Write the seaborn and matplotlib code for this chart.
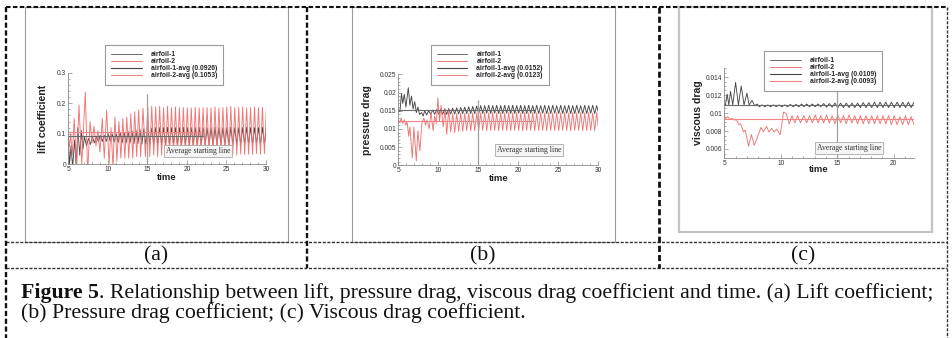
import numpy as np
import pandas as pd
import matplotlib
matplotlib.use("Agg")
import matplotlib.pyplot as plt
import seaborn as sns
from matplotlib.ticker import MultipleLocator, AutoMinorLocator, FuncFormatter
from matplotlib.lines import Line2D
from matplotlib.patches import Rectangle

sns.set_theme(style="ticks")
plt.rcParams['font.family'] = ['Liberation Sans', 'DejaVu Sans']

# ---------------- data ----------------
series_names = ["airfoil-1", "airfoil-2"]
avg_start = 15.0

# shared time stamps of the regular oscillation (panels a, b)
ab_steady_t = [15.30, 15.55, 15.80, 16.05, 16.30, 16.55, 16.80, 17.05, 17.30, 17.55,
               17.80, 18.05, 18.30, 18.55, 18.80, 19.05, 19.30, 19.55, 19.80, 20.05,
               20.30, 20.55, 20.80, 21.05, 21.30, 21.55, 21.80, 22.05, 22.30, 22.55,
               22.80, 23.05, 23.30, 23.55, 23.80, 24.05, 24.30, 24.55, 24.80, 25.05,
               25.30, 25.55, 25.80, 26.05, 26.30, 26.55, 26.80, 27.05, 27.30, 27.55,
               27.80, 28.05, 28.30, 28.55, 28.80, 29.05, 29.30, 29.55, 29.80, 30.05]
c_steady_t = [12.30, 12.55, 12.80, 13.05, 13.30, 13.55, 13.80, 14.05, 14.30, 14.55,
              14.80, 15.05, 15.30, 15.55, 15.80, 16.05, 16.30, 16.55, 16.80, 17.05,
              17.30, 17.55, 17.80, 18.05, 18.30, 18.55, 18.80, 19.05, 19.30, 19.55,
              19.80, 20.05, 20.30, 20.55, 20.80, 21.05, 21.30, 21.55, 21.80, 22.05]

# (a) lift coefficient
lift1_t = [5.00, 5.15, 5.35, 5.55, 5.80, 6.00, 6.20, 6.45, 6.65, 6.85, 7.05, 7.30, 7.55, 7.80,
           8.05, 8.30, 8.55, 8.80, 9.05, 9.30, 9.55, 9.80, 10.05, 10.30, 10.55, 10.80, 11.05,
           11.30, 11.55, 11.80, 12.05, 12.30, 12.55, 12.80, 13.05, 13.30, 13.55, 13.80, 14.05,
           14.30, 14.55, 14.80, 15.05]
lift1_v = [0.090, 0.000, 0.060, -0.010, 0.080, -0.010, 0.120, 0.030, 0.110, 0.050, 0.090, 0.060,
           0.085, 0.065, 0.090, 0.070, 0.090, 0.075, 0.095, 0.075, 0.095, 0.075, 0.100, 0.075,
           0.100, 0.073, 0.100, 0.072, 0.105, 0.070, 0.105, 0.070, 0.108, 0.070, 0.110, 0.068,
           0.112, 0.068, 0.115, 0.066, 0.116, 0.065, 0.118]
lift1_steady = [0.066, 0.119, 0.065, 0.120, 0.065, 0.120, 0.066, 0.120, 0.065, 0.121,
                0.065, 0.120, 0.066, 0.120, 0.065, 0.120, 0.065, 0.121, 0.066, 0.120,
                0.065, 0.120, 0.065, 0.120, 0.066, 0.121, 0.065, 0.120, 0.065, 0.120,
                0.066, 0.120, 0.065, 0.121, 0.065, 0.120, 0.066, 0.120, 0.065, 0.120,
                0.065, 0.121, 0.066, 0.120, 0.065, 0.120, 0.065, 0.120, 0.066, 0.121,
                0.065, 0.120, 0.065, 0.120, 0.066, 0.120, 0.065, 0.121, 0.065, 0.120]
lift2_t = [5.00, 5.15, 5.30, 5.50, 5.75, 6.05, 6.35, 6.70, 7.15, 7.45, 7.75, 8.00, 8.25, 8.50,
           8.75, 9.00, 9.30, 9.55, 9.85, 10.15, 10.40, 10.65, 10.90, 11.15, 11.40, 11.65, 11.90,
           12.15, 12.40, 12.65, 12.90, 13.15, 13.40, 13.65, 13.90, 14.15, 14.45, 14.75, 15.05]
lift2_v = [0.080, 0.060, 0.100, 0.030, 0.150, -0.020, 0.195, 0.000, 0.237, -0.030, 0.140, 0.070,
           0.125, 0.060, 0.110, 0.040, 0.150, 0.020, 0.178, 0.000, 0.120, -0.010, 0.155, 0.010,
           0.140, 0.020, 0.150, 0.020, 0.155, 0.020, 0.165, 0.020, 0.172, 0.025, 0.178, 0.025,
           0.183, 0.025, 0.190]
lift2_steady = [0.025, 0.190, 0.030, 0.188, 0.025, 0.190, 0.030, 0.185, 0.028, 0.190,
                0.030, 0.185, 0.030, 0.188, 0.030, 0.185, 0.030, 0.186, 0.030, 0.185,
                0.032, 0.185, 0.030, 0.187, 0.030, 0.185, 0.032, 0.185, 0.030, 0.186,
                0.032, 0.185, 0.030, 0.188, 0.032, 0.185, 0.030, 0.186, 0.032, 0.188,
                0.030, 0.190, 0.033, 0.185, 0.030, 0.186, 0.033, 0.188, 0.032, 0.185,
                0.033, 0.185, 0.032, 0.188, 0.035, 0.185, 0.033, 0.186, 0.035, 0.185]
lift_avg = [0.0926, 0.1053]

# (b) pressure drag
pd1_t = [5.00, 5.20, 5.40, 5.55, 5.75, 5.95, 6.25, 6.45, 6.65, 6.85, 7.05, 7.25, 7.45, 7.65,
         7.90, 8.10, 8.30, 8.55, 8.80, 9.05, 9.30, 9.55, 9.80, 10.05, 10.30, 10.55, 10.80,
         11.05, 11.30, 11.55, 11.80, 12.05, 12.30, 12.55, 12.80, 13.05, 13.30, 13.55, 13.80,
         14.05, 14.30, 14.55, 14.80, 15.05]
pd1_v = [0.0150, 0.0148, 0.0197, 0.0170, 0.0195, 0.0160, 0.0213, 0.0165, 0.0190, 0.0155,
         0.0175, 0.0145, 0.0160, 0.0140, 0.0145, 0.0135, 0.0150, 0.0138, 0.0150, 0.0140,
         0.0152, 0.0140, 0.0153, 0.0140, 0.0154, 0.0140, 0.0155, 0.0140, 0.0156, 0.0141,
         0.0157, 0.0141, 0.0158, 0.0141, 0.0159, 0.0142, 0.0160, 0.0142, 0.0161, 0.0142,
         0.0162, 0.0142, 0.0163, 0.0142]
pd1_steady = [0.0164, 0.0142, 0.0164, 0.0143, 0.0165, 0.0142, 0.0164, 0.0143, 0.0165, 0.0142,
              0.0164, 0.0142, 0.0165, 0.0143, 0.0164, 0.0142, 0.0165, 0.0142, 0.0164, 0.0143,
              0.0165, 0.0142, 0.0164, 0.0142, 0.0165, 0.0143, 0.0164, 0.0142, 0.0165, 0.0142,
              0.0164, 0.0143, 0.0165, 0.0142, 0.0164, 0.0142, 0.0165, 0.0143, 0.0164, 0.0142,
              0.0165, 0.0142, 0.0164, 0.0143, 0.0165, 0.0142, 0.0164, 0.0142, 0.0165, 0.0143,
              0.0164, 0.0142, 0.0165, 0.0142, 0.0164, 0.0143, 0.0165, 0.0142, 0.0164, 0.0142]
pd2_t = [5.00, 5.20, 5.35, 5.55, 5.75, 5.95, 6.10, 6.30, 6.45, 6.75, 6.95, 7.25, 7.45, 7.70,
         7.95, 8.20, 8.40, 8.60, 8.85, 9.10, 9.35, 9.55, 9.75, 9.95, 10.15, 10.35, 10.60,
         10.85, 11.05, 11.30, 11.55, 11.80, 12.05, 12.30, 12.55, 12.80, 13.05, 13.30, 13.55,
         13.80, 14.05, 14.30, 14.55, 14.80, 15.05]
pd2_v = [0.0125, 0.0118, 0.0130, 0.0115, 0.0125, 0.0110, 0.0120, 0.0080, 0.0105, 0.0020,
         0.0105, 0.0012, 0.0095, 0.0040, 0.0115, 0.0130, 0.0110, 0.0125, 0.0100, 0.0145,
         0.0095, 0.0135, 0.0115, 0.0185, 0.0120, 0.0165, 0.0105, 0.0155, 0.0085, 0.0152,
         0.0092, 0.0142, 0.0090, 0.0142, 0.0093, 0.0143, 0.0094, 0.0143, 0.0095, 0.0143,
         0.0095, 0.0144, 0.0095, 0.0144, 0.0095]
pd2_steady = [0.0144, 0.0096, 0.0145, 0.0095, 0.0144, 0.0096, 0.0145, 0.0096, 0.0144, 0.0095,
              0.0145, 0.0096, 0.0144, 0.0096, 0.0145, 0.0095, 0.0144, 0.0096, 0.0145, 0.0096,
              0.0144, 0.0095, 0.0145, 0.0096, 0.0144, 0.0096, 0.0145, 0.0095, 0.0144, 0.0096,
              0.0145, 0.0096, 0.0144, 0.0095, 0.0145, 0.0096, 0.0144, 0.0096, 0.0145, 0.0095,
              0.0144, 0.0096, 0.0145, 0.0096, 0.0144, 0.0095, 0.0145, 0.0096, 0.0144, 0.0096,
              0.0145, 0.0095, 0.0144, 0.0096, 0.0145, 0.0096, 0.0144, 0.0095, 0.0145, 0.0096]
pd_avg = [0.0152, 0.0123]

# (c) viscous drag
vd1_t = [5.00, 5.10, 5.25, 5.40, 5.55, 5.75, 6.00, 6.25, 6.50, 6.75, 7.00, 7.20, 7.45, 7.70,
         7.90, 8.10, 8.35, 8.60, 8.85, 9.10, 9.35, 9.60, 9.85, 10.10, 10.35, 10.60, 10.85,
         11.10, 11.35, 11.60, 11.85, 12.05]
vd1_v = [0.0109, 0.0109, 0.0121, 0.0109, 0.0124, 0.0109, 0.0134, 0.0109, 0.0130, 0.0109,
         0.0122, 0.0109, 0.0114, 0.0108, 0.0110, 0.0107, 0.0109, 0.0107, 0.0109, 0.0107,
         0.0109, 0.0107, 0.0109, 0.0107, 0.0109, 0.0107, 0.01095, 0.0107, 0.01095, 0.0107,
         0.0110, 0.0107]
vd1_steady = [0.0110, 0.0107, 0.0110, 0.0107, 0.0110, 0.0107, 0.01105, 0.01065, 0.01105, 0.01065,
              0.0111, 0.0106, 0.0111, 0.0106, 0.0111, 0.0106, 0.0111, 0.0106, 0.0111, 0.0106,
              0.01115, 0.0106, 0.01115, 0.0106, 0.0112, 0.0106, 0.0112, 0.0106, 0.0112, 0.0106,
              0.0112, 0.0106, 0.0112, 0.0106, 0.0112, 0.0106, 0.0112, 0.0106, 0.0112, 0.0106]
vd2_t = [5.00, 5.15, 5.30, 5.50, 5.70, 5.90, 6.05, 6.30, 6.45, 6.70, 6.85, 7.15, 7.40, 7.65,
         7.90, 8.25, 8.45, 8.75, 8.95, 9.20, 9.40, 9.65, 9.95, 10.25, 10.50, 10.75, 11.00,
         11.25, 11.50, 11.75, 12.05]
vd2_v = [0.0097, 0.0094, 0.0096, 0.0093, 0.0094, 0.0092, 0.0093, 0.0087, 0.0088, 0.0079,
         0.0081, 0.0063, 0.0076, 0.0064, 0.0072, 0.0084, 0.0079, 0.0085, 0.0079, 0.0083,
         0.0079, 0.0082, 0.0076, 0.0101, 0.0099, 0.0088, 0.0097, 0.0089, 0.0097, 0.0089,
         0.0097]
vd2_steady = [0.0089, 0.0097, 0.0089, 0.0098, 0.0089, 0.0097, 0.0089, 0.0098, 0.0089, 0.0097,
              0.0088, 0.0098, 0.0089, 0.0097, 0.0088, 0.0098, 0.0089, 0.0097, 0.0088, 0.0097,
              0.0088, 0.0097, 0.0088, 0.0097, 0.0088, 0.0097, 0.0088, 0.0097, 0.0088, 0.0097,
              0.0087, 0.0097, 0.0087, 0.0096, 0.0087, 0.0097, 0.0087, 0.0096, 0.0087, 0.0096]
vd_avg = [0.0109, 0.0093]

# averaging window end, x-range end and start-line tops
avg_end = [22.0, 22.0, 21.8]
x_max = [30.0, 30.0, 21.8]
start_line_top = [0.23, 0.018, 0.0124]

y_labels = ["lift coefficient", "pressure drag", "viscous drag"]
panel_tags = ["(a)", "(b)", "(c)"]
caption_bold = "Figure 5"
caption_l1 = (". Relationship between lift, pressure drag, viscous drag coefficient and time. "
              "(a) Lift coefficient;")
caption_l2 = "(b) Pressure drag coefficient; (c) Viscous drag coefficient."
starting_text = "Average starting line"

# ---------------- styles ----------------
C1, C2 = "#474747", "#ef7474"
C1A, C2A = "#6a6a6a", "#f08585"
SERIF = "Liberation Serif"
SANS = "Liberation Sans"

W, H = 952, 338
fig = plt.figure(figsize=(W / 100, H / 100), dpi=100, facecolor="white")

bg = fig.add_axes([0, 0, 1, 1], zorder=0)
bg.set_xlim(0, W)
bg.set_ylim(H, 0)
bg.axis("off")


def px_axes(x0, y0, x1, y1):
    return fig.add_axes([x0 / W, 1 - y1 / H, (x1 - x0) / W, (y1 - y0) / H], zorder=2)


def fmt(v, pos):
    return "%g" % round(v, 6)


def draw_panel(ax, t1, v1, t2, v2, avgs, aend, xmax, ylim, ymaj, ymin_n, vtop,
               ylabel, ylab_x, xlab_y, leg_xy, txt_xy):
    df = pd.DataFrame({
        "time": list(t1) + list(t2),
        "value": list(v1) + list(v2),
        "series": [series_names[0]] * len(t1) + [series_names[1]] * len(t2),
    })
    sns.lineplot(data=df, x="time", y="value", hue="series",
                 palette={series_names[0]: C1, series_names[1]: C2},
                 estimator=None, sort=False, legend=False, linewidth=0.65, ax=ax)
    dfa = pd.DataFrame({
        "time": [5.0, aend, 5.0, aend],
        "value": [avgs[0], avgs[0], avgs[1], avgs[1]],
        "series": ["a1", "a1", "a2", "a2"],
    })
    sns.lineplot(data=dfa, x="time", y="value", hue="series",
                 palette={"a1": C1A, "a2": C2A}, estimator=None, sort=False,
                 legend=False, linewidth=0.8, ax=ax)
    ax.vlines(avg_start, ylim[0], vtop, color="#a0a0a0", lw=0.9, zorder=3)
    ax.text(txt_xy[0], txt_xy[1], starting_text, family=SERIF, fontsize=5.6,
            ha="center", va="center", color="#333333", zorder=5,
            bbox=dict(boxstyle="square,pad=0.25", fc="#f5f5f5", ec="#a8a8a8", lw=0.6))
    ax.set_xlim(5, xmax)
    ax.set_ylim(*ylim)
    ax.set_facecolor("none")
    for s in ("top", "right"):
        ax.spines[s].set_visible(False)
    for s in ("left", "bottom"):
        ax.spines[s].set_color("#8a8a8a")
        ax.spines[s].set_linewidth(0.6)
    ax.xaxis.set_major_locator(MultipleLocator(5))
    ax.xaxis.set_minor_locator(AutoMinorLocator(5))
    ax.yaxis.set_major_locator(MultipleLocator(ymaj))
    ax.yaxis.set_minor_locator(AutoMinorLocator(ymin_n))
    ax.xaxis.set_major_formatter(FuncFormatter(fmt))
    ax.yaxis.set_major_formatter(FuncFormatter(fmt))
    ax.tick_params(which="both", direction="in", color="#8a8a8a", width=0.5,
                   labelsize=4.8, labelcolor="#333333", pad=1.5, bottom=True, left=True)
    ax.tick_params(which="major", length=2.6)
    ax.tick_params(which="minor", length=1.4)
    ax.set_xlabel("time", fontsize=6.8, fontweight="bold", color="#222222")
    ax.set_ylabel(ylabel, fontsize=7.6, fontweight="bold", color="#222222")
    ax.xaxis.label.set_va("center")
    ax.yaxis.label.set_va("center")
    ax.xaxis.set_label_coords(0.5, xlab_y)
    ax.yaxis.set_label_coords(ylab_x, 0.5)
    handles = [Line2D([], [], color=C1A, lw=0.7), Line2D([], [], color=C2, lw=0.7),
               Line2D([], [], color=C1, lw=0.8), Line2D([], [], color=C2A, lw=0.8)]
    labels = [series_names[0], series_names[1],
              "%s-avg (%s)" % (series_names[0], "%.4f" % avgs[0]),
              "%s-avg (%s)" % (series_names[1], "%.4f" % avgs[1])]
    leg = ax.legend(handles, labels, loc="upper left",
                    bbox_to_anchor=(leg_xy[0] / W, 1 - leg_xy[1] / H),
                    bbox_transform=fig.transFigure, frameon=True, fancybox=False,
                    framealpha=1, edgecolor="#9a9a9a", borderpad=0.9,
                    handlelength=4.5, handletextpad=1.3, labelspacing=0.0,
                    borderaxespad=0, prop={"family": SANS, "weight": "bold", "size": 4.9})
    leg.get_frame().set_linewidth(0.8)
    leg.set_zorder(10)


# image frames
bg.add_patch(Rectangle((25.3, 7), 263, 235, fill=False, ec="#9c9c9c", lw=0.8))
bg.add_patch(Rectangle((351.7, 7), 263.3, 235, fill=False, ec="#9c9c9c", lw=0.8))
bg.add_patch(Rectangle((679, 7), 252.7, 225, fill=False, ec="#c4c4c4", lw=1.6))

axA = px_axes(68.3, 72.7, 266.0, 164.3)
draw_panel(axA, lift1_t + ab_steady_t, lift1_v + lift1_steady,
           lift2_t + ab_steady_t, lift2_v + lift2_steady, lift_avg, avg_end[0], x_max[0],
           (0, 0.3), 0.1, 5, start_line_top[0], y_labels[0], -0.128, -0.14,
           (105, 45), (21.4, 0.045))

axB = px_axes(398.3, 74.3, 598.3, 165.3)
draw_panel(axB, pd1_t + ab_steady_t, pd1_v + pd1_steady,
           pd2_t + ab_steady_t, pd2_v + pd2_steady, pd_avg, avg_end[1], x_max[1],
           (0, 0.025), 0.005, 5, start_line_top[1], y_labels[1], -0.157, -0.14,
           (430.7, 45), (21.36, 0.0042))

axC = px_axes(724.3, 68.0, 914.0, 158.0)
draw_panel(axC, vd1_t + c_steady_t, vd1_v + vd1_steady,
           vd2_t + c_steady_t, vd2_v + vd2_steady, vd_avg, avg_end[2], x_max[2],
           (0.005, 0.015), 0.002, 4, start_line_top[2], y_labels[2], -0.139, -0.131,
           (764, 51), (16.07, 0.0061))

# table dashed lines
dash = (0, (2.2, 1.1))
for (x0, y0, x1, y1, lw, c) in [
        (6, 7, 947, 7, 1.5, "#111111"),
        (6, 242, 947, 242, 1.0, "#333333"),
        (6, 268, 947, 268, 1.0, "#333333"),
        (6, 7, 6, 338, 1.7, "#111111"),
        (307, 7, 307, 268, 1.7, "#111111"),
        (659, 7, 659, 268, 2.0, "#111111"),
        (947, 7, 947, 338, 1.0, "#333333")]:
    bg.plot([x0, x1], [y0, y1], color=c, lw=lw, linestyle=dash, solid_capstyle="butt")

# captions
cap_fs = 14.0
tags = [bg.text(x, 256, t, family=SERIF, fontsize=cap_fs, ha="center", va="center",
                color="#111111") for x, t in zip([156.5, 483, 803], panel_tags)]
tb = bg.text(21, 298, caption_bold, family=SERIF, fontweight="bold", fontsize=cap_fs,
             ha="left", va="baseline", color="#111111")
t1 = bg.text(100, 298, caption_l1, family=SERIF, fontsize=cap_fs, ha="left",
             va="baseline", color="#111111")
t2 = bg.text(21, 318, caption_l2, family=SERIF, fontsize=cap_fs, ha="left",
             va="baseline", color="#111111")
fig.canvas.draw()
r = fig.canvas.get_renderer()
wtot = tb.get_window_extent(r).width + t1.get_window_extent(r).width
scale = 914.0 / wtot
for t in tags + [tb, t1, t2]:
    t.set_fontsize(cap_fs * scale)
fig.canvas.draw()
t1.set_x(tb.get_window_extent(r).x1)

fig.savefig("out.png", dpi=100, facecolor="white")
